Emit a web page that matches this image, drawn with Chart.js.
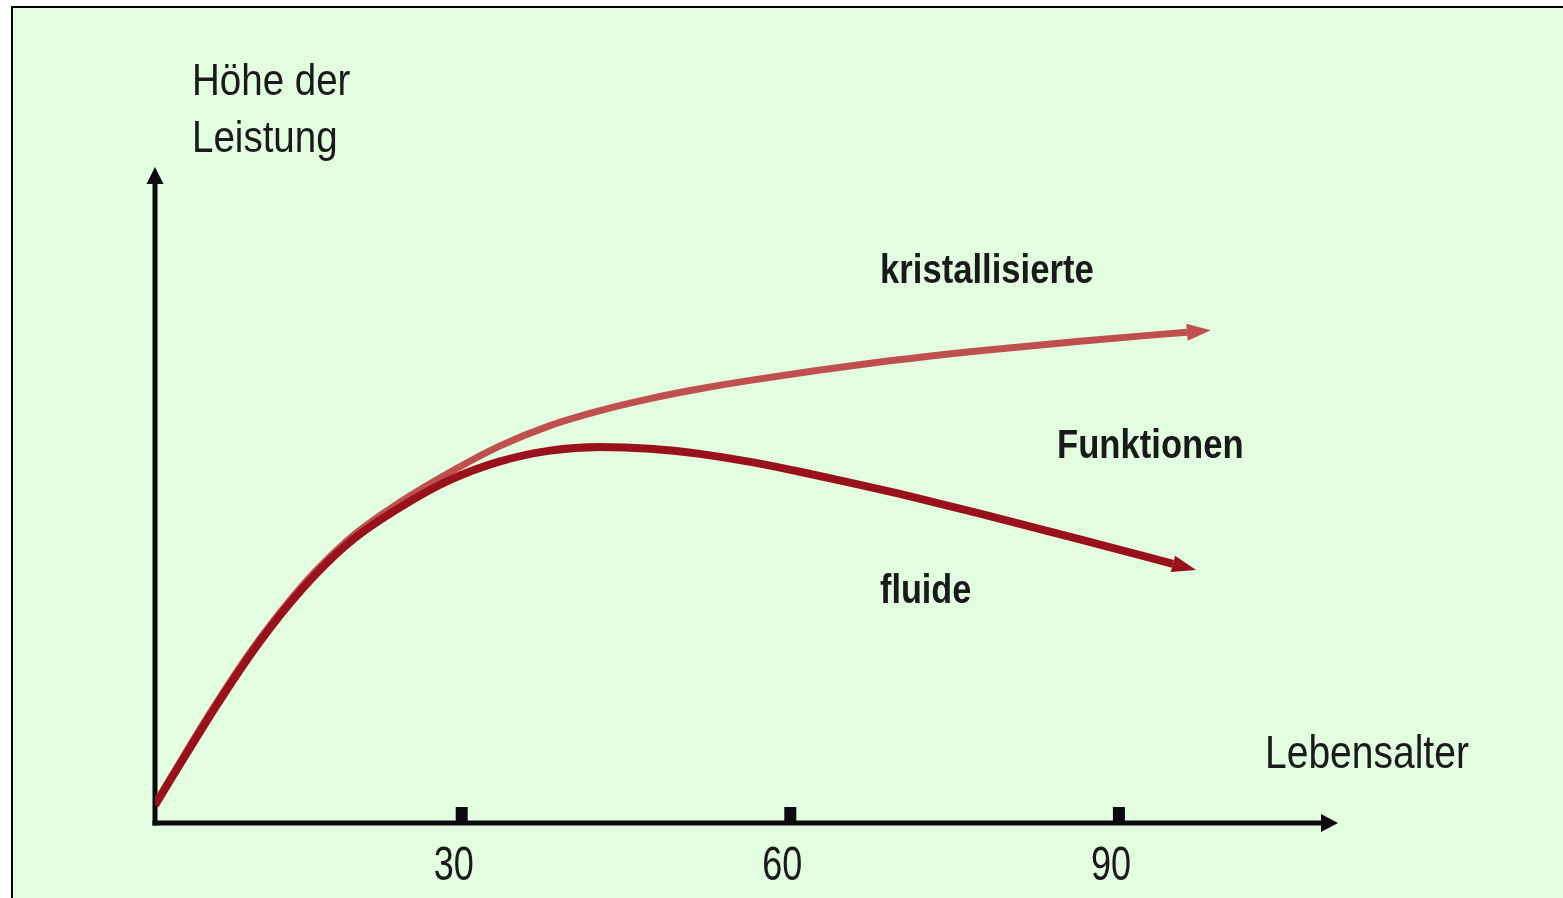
<!DOCTYPE html>
<html lang="de">
<head>
<meta charset="UTF-8">
<title>Fluide und kristallisierte Funktionen</title>
<script src="https://cdn.jsdelivr.net/npm/chart.js"></script>
<style>
  html, body { margin: 0; padding: 0; background: #fff; }
  canvas { display: block; }
</style>
</head>
<body>
<canvas id="leistungChart" width="1563" height="898"></canvas>
<script>
// ----------- Daten ------------
const tickWerte = [30, 60, 90];
const tickLabels = ['30', '60', '90'];

const fluideX = [2.0, 3.83, 5.65, 7.48, 9.49, 11.59, 14.05, 16.79, 20.08, 24.37, 28.93, 33.5, 38.06, 42.62, 47.19, 51.75, 56.32, 60.88, 65.45, 70.01, 77.32, 86.44, 94.93];
const fluideY = [2.7, 7.73, 12.68, 17.55, 22.68, 27.68, 32.97, 38.12, 43.22, 48.11, 52.3, 55.13, 56.77, 57.32, 57.05, 56.27, 55.04, 53.54, 51.89, 50.16, 47.16, 43.24, 39.5];

const kristallX = [2.0, 3.83, 5.65, 7.48, 9.49, 11.59, 14.05, 16.79, 20.08, 24.37, 28.93, 33.5, 38.06, 42.62, 47.19, 51.75, 56.32, 68.19, 77.32, 86.44, 96.21];
const kristallY = [2.9, 8.0, 13.05, 17.95, 23.1, 28.1, 33.4, 38.6, 43.8, 48.9, 53.46, 57.48, 60.58, 62.86, 64.69, 66.19, 67.47, 70.26, 71.99, 73.45, 74.82];

const titelY = ['Höhe der', 'Leistung'];
const titelX = 'Lebensalter';
const kurvenText = ['kristallisierte', 'Funktionen', 'fluide'];

const SCHRIFT = "'Liberation Sans', Arial, sans-serif";
const TEXTFARBE = '#1a1a1a';
const ACHSENFARBE = '#0b0a0e';

function punkte(xs, ys) {
    return xs.map((x, i) => ({ x: x, y: ys[i] }));
}

// schmale Schrift nachbilden (horizontal gestaucht)
function schmalText(ctx, text, x, y, sx, align) {
    ctx.save();
    ctx.translate(x, y);
    ctx.scale(sx, 1);
    ctx.textAlign = align || 'left';
    ctx.fillText(text, 0, 0);
    ctx.restore();
}

// Hintergrund + Rahmen
const hintergrund = {
    id: 'hintergrund',
    beforeDraw(chart) {
        const ctx = chart.ctx;
        ctx.save();
        ctx.fillStyle = '#ffffff';
        ctx.fillRect(0, 0, chart.width, chart.height);
        ctx.fillStyle = '#e2fde0';
        ctx.fillRect(12, 7, chart.width, chart.height);
        ctx.strokeStyle = '#000';
        ctx.lineWidth = 2;
        ctx.beginPath();
        ctx.moveTo(12, chart.height + 5);
        ctx.lineTo(12, 7);
        ctx.lineTo(chart.width + 5, 7);
        ctx.stroke();
        ctx.restore();
    }
};

function pfeilspitze(ctx, x, y, winkel, laenge, breite) {
    ctx.save();
    ctx.translate(x, y);
    ctx.rotate(winkel);
    ctx.beginPath();
    ctx.moveTo(laenge, 0);
    ctx.lineTo(0, -breite / 2);
    ctx.lineTo(0, breite / 2);
    ctx.closePath();
    ctx.fill();
    ctx.restore();
}

// Achsen mit Pfeilen, Tick-Quadraten und Tick-Beschriftung
const achsen = {
    id: 'achsen',
    beforeDatasetsDraw(chart) {
        const { ctx, chartArea } = chart;
        const xs = chart.scales.x;
        const x0 = chartArea.left, y0 = chartArea.bottom;
        ctx.save();
        ctx.strokeStyle = ACHSENFARBE;
        ctx.fillStyle = ACHSENFARBE;
        ctx.lineWidth = 5;
        ctx.beginPath();
        ctx.moveTo(x0, y0 + 2.5);
        ctx.lineTo(x0, chartArea.top + 14);
        ctx.stroke();
        pfeilspitze(ctx, x0, chartArea.top + 17, -Math.PI / 2, 17, 17);
        ctx.beginPath();
        ctx.moveTo(x0 - 2.5, y0);
        ctx.lineTo(chartArea.right - 14, y0);
        ctx.stroke();
        pfeilspitze(ctx, chartArea.right - 17, y0, 0, 17, 18);
        tickWerte.forEach(v => {
            const px = xs.getPixelForValue(v);
            ctx.fillRect(px - 6, y0 - 16, 12, 14);
        });
        ctx.fillStyle = TEXTFARBE;
        ctx.font = '48px ' + SCHRIFT;
        ctx.textBaseline = 'alphabetic';
        tickWerte.forEach((v, i) => {
            const px = xs.getPixelForValue(v);
            schmalText(ctx, tickLabels[i], px - 8, y0 + 57, 0.75, 'center');
        });
        ctx.restore();
    },
    afterDatasetsDraw(chart) {
        const ctx = chart.ctx;
        chart.data.datasets.forEach((ds, i) => {
            const pts = chart.getDatasetMeta(i).data;
            const a = pts[pts.length - 2], b = pts[pts.length - 1];
            ctx.fillStyle = ds.borderColor;
            pfeilspitze(ctx, b.x, b.y, Math.atan2(b.y - a.y, b.x - a.x), 24, 17);
        });
    }
};

// Beschriftungen
const beschriftung = {
    id: 'beschriftung',
    afterDraw(chart) {
        const ctx = chart.ctx;
        ctx.save();
        ctx.fillStyle = TEXTFARBE;
        ctx.textBaseline = 'alphabetic';
        ctx.font = '44px ' + SCHRIFT;
        schmalText(ctx, titelY[0], 192, 95, 0.875);
        schmalText(ctx, titelY[1], 192, 152, 0.875);
        ctx.font = '47px ' + SCHRIFT;
        schmalText(ctx, titelX, 1265, 768, 0.83);
        ctx.font = 'bold 41px ' + SCHRIFT;
        schmalText(ctx, kurvenText[0], 880, 283, 0.845);
        schmalText(ctx, kurvenText[1], 1057, 458, 0.845);
        schmalText(ctx, kurvenText[2], 880, 603, 0.835);
        ctx.restore();
    }
};

const ctx = document.getElementById('leistungChart').getContext('2d');

const leistungChart = new Chart(ctx, {
    type: 'line',
    data: {
        datasets: [
            {
                label: 'fluide Funktionen',
                data: punkte(fluideX, fluideY),
                borderColor: '#99121b',
                borderWidth: 8,
                pointRadius: 0,
                fill: false,
                cubicInterpolationMode: 'monotone'
            },
            {
                label: 'kristallisierte Funktionen',
                data: punkte(kristallX, kristallY),
                borderColor: '#c0504d',
                borderWidth: 7,
                pointRadius: 0,
                fill: false,
                cubicInterpolationMode: 'monotone'
            }
        ]
    },
    options: {
        responsive: false,
        animation: false,
        layout: { padding: { left: 155, right: 225, top: 167, bottom: 75 } },
        scales: {
            x: {
                type: 'linear',
                display: false,
                min: 2,
                max: 110
            },
            y: {
                display: false,
                min: 0,
                max: 100
            }
        },
        plugins: {
            legend: { display: false },
            tooltip: { enabled: false }
        }
    },
    plugins: [hintergrund, achsen, beschriftung]
});
</script>
</body>
</html>
